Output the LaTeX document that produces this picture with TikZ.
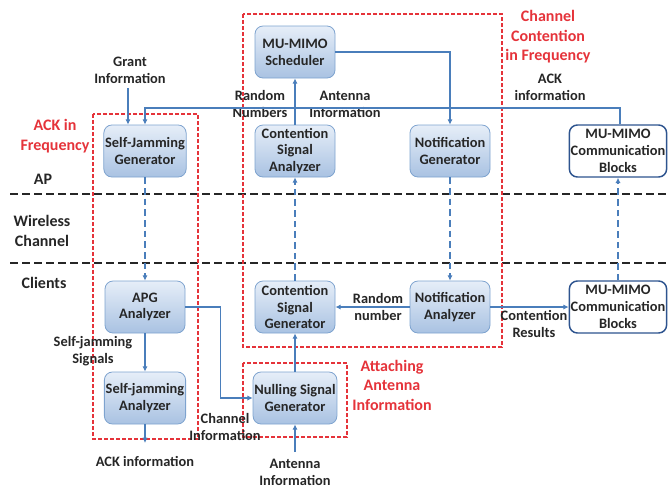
\documentclass[tikz,border=0pt]{standalone}
\usepackage{fontspec}
\setmainfont{Carlito}
\usepackage{tikz}
\usetikzlibrary{arrows.meta, calc, positioning}
\definecolor{boxtop}{HTML}{E6EEF8}
\definecolor{boxbot}{HTML}{A9C2E2}
\definecolor{boxedge}{HTML}{7EA3CF}
\definecolor{commedge}{HTML}{2E548F}
\definecolor{flowblue}{HTML}{4A7EBB}
\definecolor{groupred}{HTML}{E5333A}
\definecolor{darktext}{HTML}{262626}

\begin{document}
\begin{tikzpicture}[x=0.75pt, y=-0.75pt, font=\fontsize{10.8}{12.6}\selectfont\bfseries, text=darktext,
	block/.style={draw=boxedge, rounded corners=6pt, top color=boxtop, bottom color=boxbot, minimum width=60pt, minimum height=39pt, align=center, inner sep=1pt, line width=0.6pt},
	commblock/.style={draw=commedge, fill=white, rounded corners=6pt, line width=1.1pt, minimum width=72pt, minimum height=39pt, align=center, inner sep=1pt},
	flow/.style={draw=flowblue, line width=0.9pt, -{Latex[length=4pt,width=4pt]}},
	wireless/.style={flow, dash pattern=on 5pt off 3pt},
	group/.style={draw=groupred, dash pattern=on 3pt off 1.5pt, line width=0.8pt},
	grouplabel/.style={text=groupred, align=center, font=\fontsize{12}{14.6}\selectfont\bfseries},
	info/.style={align=center},
	tierlabel/.style={align=center, font=\fontsize{12}{14.6}\selectfont\bfseries},
	tier/.style={black!85, line width=1.6pt, dash pattern=on 6pt off 3pt}]

	\useasboundingbox (0,0) rectangle (668,487);

	% tiers
	\draw[tier] (10,194) -- (668,194);
	\draw[tier] (10,263) -- (668,263);
	\node[tierlabel] (ap) at (43,179) {AP};
	\node[tierlabel] (air) at (42,231) {Wireless\\Channel};
	\node[tierlabel] (clients) at (44,283) {Clients};

	% groups
	\draw[group] (243,14) rectangle (502,347);
	\draw[group] (93,114) rectangle (198,439);
	\draw[group] (243,363) rectangle (347,437);
	\node[grouplabel] (cclabel) at (548,37) {Channel\\Contention\\in Frequency};
	\node[grouplabel] (acklabel) at (55,136) {ACK in\\Frequency};
	\node[grouplabel] (aalabel) at (392,385) {Attaching\\Antenna\\Information};

	% access point
	\node[block] (sched) at (295,52) {MU-MIMO\\Scheduler};
	\node[block] (sjgen) at (145,151) {Self-Jamming\\Generator};
	\node[block] (csana) at (295,151) {Contention\\Signal\\Analyzer};
	\node[block] (notgen) at (450,151) {Notification\\Generator};
	\node[commblock] (apcomm) at (618,151) {MU-MIMO\\Communication\\Blocks};

	% clients
	\node[block] (apgana) at (145,307) {APG\\Analyzer};
	\node[block] (csgen) at (295,307) {Contention\\Signal\\Generator};
	\node[block] (notana) at (450,307) {Notification\\Analyzer};
	\node[commblock] (clcomm) at (618,307) {MU-MIMO\\Communication\\Blocks};
	\node[block] (sjana) at (145,398) {Self-jamming\\Analyzer};
	\node[block] (nullgen) at (295,398) {Nulling Signal\\Generator};

	% labels on the links
	\node[info] (grant) at (130,70) {Grant\\Information};
	\node[info] (acktop) at (550,87) {ACK\\information};
	\node[info] (randnums) at (260,104) {Random\\Numbers};
	\node[info] (antinfo) at (345,104) {Antenna\\Information};
	\node[info] (randnum) at (378,307) {Random\\number};
	\node[info] (results) at (534,324) {Contention\\Results};
	\node[info] (sjsig) at (93,351) {Self-jamming\\Signals};
	\node[info] (chinfo) at (225,427) {Channel\\Information};
	\node[info] (ackout) at (145,461) {ACK information};
	\node[info] (antin) at (295,472) {Antenna\\Information};

	\coordinate (grantin) at ($ (sjgen.north)+(-17,0) $);
	\coordinate (ackturn) at (620,108);
	\coordinate (ackend) at (145,443);
	\coordinate (antstart) at (295,452);

	% links
	\draw[flow] (grantin |- grant.south) -- (grantin);
	\draw[flow] (apcomm.north -| ackturn) -- (ackturn) -| (sjgen.north);
	\draw[flow] (csana.north) -- (sched.south);
	\draw[flow] (sched.east) -| (notgen.north);
	\draw[wireless] (sjgen.south) -- (apgana.north);
	\draw[wireless] (csgen.north) -- (csana.south);
	\draw[wireless] (notgen.south) -- (notana.north);
	\draw[wireless] (clcomm.north) -- (apcomm.south);
	\draw[flow] (notana.west) -- (csgen.east);
	\draw[flow] (notana.east) -- (clcomm.west);
	\draw[flow] (apgana.east) -- ++(35,0) |- (nullgen.west);
	\draw[flow] (apgana.south) -- (sjana.north);
	\draw[flow] (sjana.south) -- (ackend);
	\draw[flow] (nullgen.north) -- (csgen.south);
	\draw[flow] (antstart) -- (nullgen.south);

\end{tikzpicture}
\end{document}
